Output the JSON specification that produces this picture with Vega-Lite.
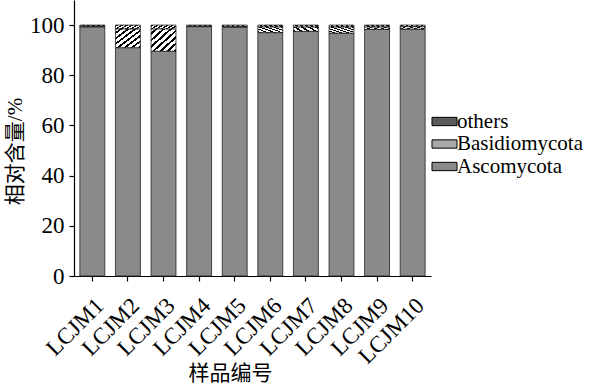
{
  "$schema": "https://vega.github.io/schema/vega-lite/v6.json",
  "width": 357,
  "height": 276,
  "autosize": "none",
  "padding": {"left": 74, "top": 0, "right": 160, "bottom": 108},
  "background": "white",
  "data": {
    "values": [
      {"sample": "LCJM1", "phylum": "Ascomycota", "value": 99.3},
      {"sample": "LCJM1", "phylum": "Basidiomycota", "value": 0.3},
      {"sample": "LCJM1", "phylum": "others", "value": 0.4},
      {"sample": "LCJM2", "phylum": "Ascomycota", "value": 91.0},
      {"sample": "LCJM2", "phylum": "Basidiomycota", "value": 7.5},
      {"sample": "LCJM2", "phylum": "others", "value": 1.5},
      {"sample": "LCJM3", "phylum": "Ascomycota", "value": 89.6},
      {"sample": "LCJM3", "phylum": "Basidiomycota", "value": 8.9},
      {"sample": "LCJM3", "phylum": "others", "value": 1.5},
      {"sample": "LCJM4", "phylum": "Ascomycota", "value": 99.4},
      {"sample": "LCJM4", "phylum": "Basidiomycota", "value": 0.2},
      {"sample": "LCJM4", "phylum": "others", "value": 0.4},
      {"sample": "LCJM5", "phylum": "Ascomycota", "value": 99.2},
      {"sample": "LCJM5", "phylum": "Basidiomycota", "value": 0.3},
      {"sample": "LCJM5", "phylum": "others", "value": 0.5},
      {"sample": "LCJM6", "phylum": "Ascomycota", "value": 97.0},
      {"sample": "LCJM6", "phylum": "Basidiomycota", "value": 2.3},
      {"sample": "LCJM6", "phylum": "others", "value": 0.7},
      {"sample": "LCJM7", "phylum": "Ascomycota", "value": 97.5},
      {"sample": "LCJM7", "phylum": "Basidiomycota", "value": 1.8},
      {"sample": "LCJM7", "phylum": "others", "value": 0.7},
      {"sample": "LCJM8", "phylum": "Ascomycota", "value": 96.8},
      {"sample": "LCJM8", "phylum": "Basidiomycota", "value": 2.5},
      {"sample": "LCJM8", "phylum": "others", "value": 0.7},
      {"sample": "LCJM9", "phylum": "Ascomycota", "value": 98.3},
      {"sample": "LCJM9", "phylum": "Basidiomycota", "value": 1.0},
      {"sample": "LCJM9", "phylum": "others", "value": 0.7},
      {"sample": "LCJM10", "phylum": "Ascomycota", "value": 98.4},
      {"sample": "LCJM10", "phylum": "Basidiomycota", "value": 1.0},
      {"sample": "LCJM10", "phylum": "others", "value": 0.6}
    ]
  },
  "mark": {"type": "bar", "stroke": "#222", "strokeWidth": 0.8},
  "encoding": {
    "x": {
      "field": "sample",
      "type": "nominal",
      "sort": null,
      "scale": {"paddingInner": 0.3, "paddingOuter": 0.165},
      "axis": {
        "title": "样品编号",
        "labelAngle": -45,
        "labelAlign": "right",
        "labelBaseline": "top",
        "labelPadding": 13,
        "labelOffset": 0,
        "titleX": 156,
        "titleY": 97,
        "titleBaseline": "middle",
        "titleAlign": "center"
      }
    },
    "y": {
      "field": "value",
      "type": "quantitative",
      "stack": "zero",
      "scale": {"domain": [0, 110], "nice": false},
      "axis": {
        "title": "相对含量/%",
        "values": [0, 20, 40, 60, 80, 100],
        "labelPadding": 5,
        "titleX": -59,
        "titleY": 151,
        "titleBaseline": "middle",
        "titleAlign": "center",
        "titleAngle": -90
      }
    },
    "order": {"field": "phylum", "sort": "ascending"},
    "fill": {
      "field": "phylum",
      "type": "nominal",
      "scale": {
        "domain": ["others", "Basidiomycota", "Ascomycota"],
        "range": ["#5a5a5a", "#a8a8a8", "#8a8a8a"]
      },
      "condition": [
        {"test": "datum.phylum === 'others'", "value": {"gradient": "linear", "x1": 0, "y1": 0, "x2": 1, "y2": 1, "stops": [
            {"offset": 0, "color": "white"}, {"offset": 0.05, "color": "white"}, {"offset": 0.05, "color": "black"}, {"offset": 0.1, "color": "black"},
            {"offset": 0.1, "color": "white"}, {"offset": 0.15, "color": "white"}, {"offset": 0.15, "color": "black"}, {"offset": 0.2, "color": "black"},
            {"offset": 0.2, "color": "white"}, {"offset": 0.25, "color": "white"}, {"offset": 0.25, "color": "black"}, {"offset": 0.3, "color": "black"},
            {"offset": 0.3, "color": "white"}, {"offset": 0.35, "color": "white"}, {"offset": 0.35, "color": "black"}, {"offset": 0.4, "color": "black"},
            {"offset": 0.4, "color": "white"}, {"offset": 0.45, "color": "white"}, {"offset": 0.45, "color": "black"}, {"offset": 0.5, "color": "black"},
            {"offset": 0.5, "color": "white"}, {"offset": 0.55, "color": "white"}, {"offset": 0.55, "color": "black"}, {"offset": 0.6, "color": "black"},
            {"offset": 0.6, "color": "white"}, {"offset": 0.65, "color": "white"}, {"offset": 0.65, "color": "black"}, {"offset": 0.7, "color": "black"},
            {"offset": 0.7, "color": "white"}, {"offset": 0.75, "color": "white"}, {"offset": 0.75, "color": "black"}, {"offset": 0.8, "color": "black"},
            {"offset": 0.8, "color": "white"}, {"offset": 0.85, "color": "white"}, {"offset": 0.85, "color": "black"}, {"offset": 0.9, "color": "black"},
            {"offset": 0.9, "color": "white"}, {"offset": 0.95, "color": "white"}, {"offset": 0.95, "color": "black"}, {"offset": 1, "color": "black"}
          ]}},
        {"test": "datum.phylum === 'Basidiomycota'", "value": {"gradient": "linear", "x1": 0, "y1": 0, "x2": 1, "y2": 1, "stops": [
            {"offset": 0, "color": "white"}, {"offset": 0.0857, "color": "white"}, {"offset": 0.0857, "color": "black"}, {"offset": 0.1429, "color": "black"},
            {"offset": 0.1429, "color": "white"}, {"offset": 0.2286, "color": "white"}, {"offset": 0.2286, "color": "black"}, {"offset": 0.2857, "color": "black"},
            {"offset": 0.2857, "color": "white"}, {"offset": 0.3714, "color": "white"}, {"offset": 0.3714, "color": "black"}, {"offset": 0.4286, "color": "black"},
            {"offset": 0.4286, "color": "white"}, {"offset": 0.5143, "color": "white"}, {"offset": 0.5143, "color": "black"}, {"offset": 0.5714, "color": "black"},
            {"offset": 0.5714, "color": "white"}, {"offset": 0.6571, "color": "white"}, {"offset": 0.6571, "color": "black"}, {"offset": 0.7143, "color": "black"},
            {"offset": 0.7143, "color": "white"}, {"offset": 0.8, "color": "white"}, {"offset": 0.8, "color": "black"}, {"offset": 0.8571, "color": "black"},
            {"offset": 0.8571, "color": "white"}, {"offset": 0.9429, "color": "white"}, {"offset": 0.9429, "color": "black"}, {"offset": 1, "color": "black"}
          ]}}
      ],
      "legend": {
        "title": null,
        "orient": "none",
        "legendX": 360,
        "legendY": 111,
        "symbolType": "M-1.5,-0.5L1.5,-0.5L1.5,0.5L-1.5,0.5Z",
        "symbolSize": 278,
        "symbolStrokeColor": "black",
        "symbolStrokeWidth": 1,
        "labelFont": "Liberation Serif",
        "labelFontSize": 21,
        "labelColor": "black",
        "labelOffset": 2,
        "rowPadding": 0.5,
        "labelLimit": 300
      }
    }
  },
  "config": {
    "view": {"stroke": null},
    "axis": {
      "grid": false,
      "domainColor": "black",
      "domainWidth": 1.2,
      "tickColor": "black",
      "tickWidth": 1.2,
      "tickSize": 5,
      "labelFont": "Liberation Serif",
      "labelFontSize": 23,
      "labelColor": "black",
      "titleFont": "Liberation Serif, Noto Sans CJK SC",
      "titleFontSize": 21,
      "titleFontWeight": "normal",
      "titleColor": "black"
    }
  }
}
